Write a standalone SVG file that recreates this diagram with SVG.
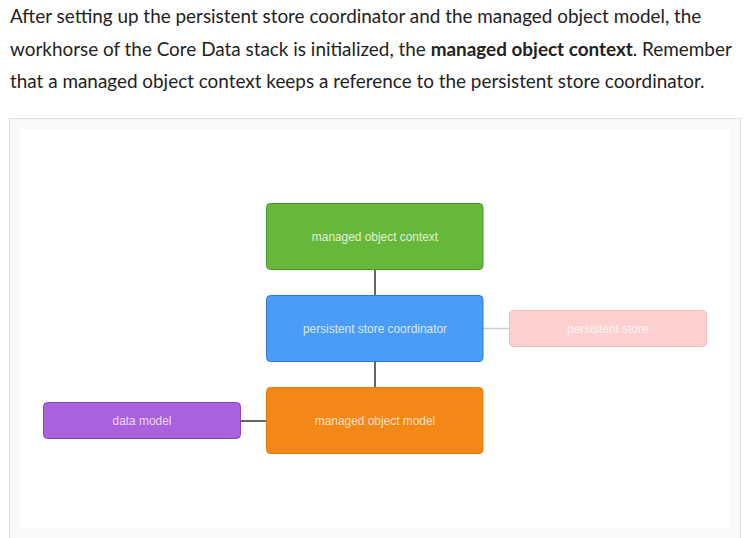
<svg xmlns="http://www.w3.org/2000/svg" width="752" height="538" viewBox="0 0 752 538">
<style>
.para{font-family:Lato,"Liberation Sans",sans-serif;font-size:18.9px;fill:#222;}
.b{font-weight:bold;}
.lbl{font-family:"Liberation Sans",Arial,sans-serif;font-size:11.9px;text-anchor:middle;}
.node{stroke-width:1;}
.conn{stroke:#666;stroke-width:2;fill:none;}
.conn-light{stroke:#ccc;stroke-width:1.5;fill:none;}
</style>
<rect width="752" height="538" fill="#ffffff"/>
<g id="paragraph">
<text class="para" x="10" y="22.5">After setting up the persistent store coordinator and the managed object model, the</text>
<text class="para" x="10" y="55.5">workhorse of the Core Data stack is initialized, the <tspan class="b">managed object context</tspan>. Remember</text>
<text class="para" x="10" y="88">that a managed object context keeps a reference to the persistent store coordinator.</text>
</g>
<g id="panel">
<rect x="9.5" y="118.5" width="731" height="430" fill="#f9f9f9" stroke="#dde2e6"/>
<rect x="20" y="129" width="710" height="399" fill="#ffffff"/>
</g>
<g id="connectors">
<line class="conn" x1="375" y1="269" x2="375" y2="295"/>
<line class="conn" x1="375" y1="361" x2="375" y2="387"/>
<line class="conn" x1="240" y1="421" x2="266" y2="421"/>
<line class="conn-light" x1="483" y1="328.5" x2="509" y2="328.5"/>
</g>
<g id="managed-object-context">
<rect class="node" x="266.5" y="203.5" width="216.5" height="66" rx="4" fill="#67b73a" stroke="#3f9a2c"/>
<text class="lbl" x="375" y="241" fill="#e3f0d9">managed object context</text>
</g>
<g id="persistent-store-coordinator">
<rect class="node" x="266.5" y="295.5" width="216.5" height="66" rx="4" fill="#4a9cf6" stroke="#2b78d6"/>
<text class="lbl" x="375" y="333" fill="#d8e8fc">persistent store coordinator</text>
</g>
<g id="managed-object-model">
<rect class="node" x="266.5" y="387.5" width="216.5" height="66" rx="4" fill="#f38718" stroke="#e57a10"/>
<text class="lbl" x="375" y="425" fill="#fce0c6">managed object model</text>
</g>
<g id="data-model">
<rect class="node" x="43.5" y="402.5" width="197" height="36" rx="4" fill="#a961de" stroke="#8645b8"/>
<text class="lbl" x="142" y="425" fill="#e9d8f6">data model</text>
</g>
<g id="persistent-store">
<rect class="node" x="509.5" y="310.5" width="197" height="36" rx="4" fill="#fdd0cf" stroke="#f8bdbc"/>
<text class="lbl" x="608" y="333" fill="#fff4f4">persistent store</text>
</g>
</svg>
